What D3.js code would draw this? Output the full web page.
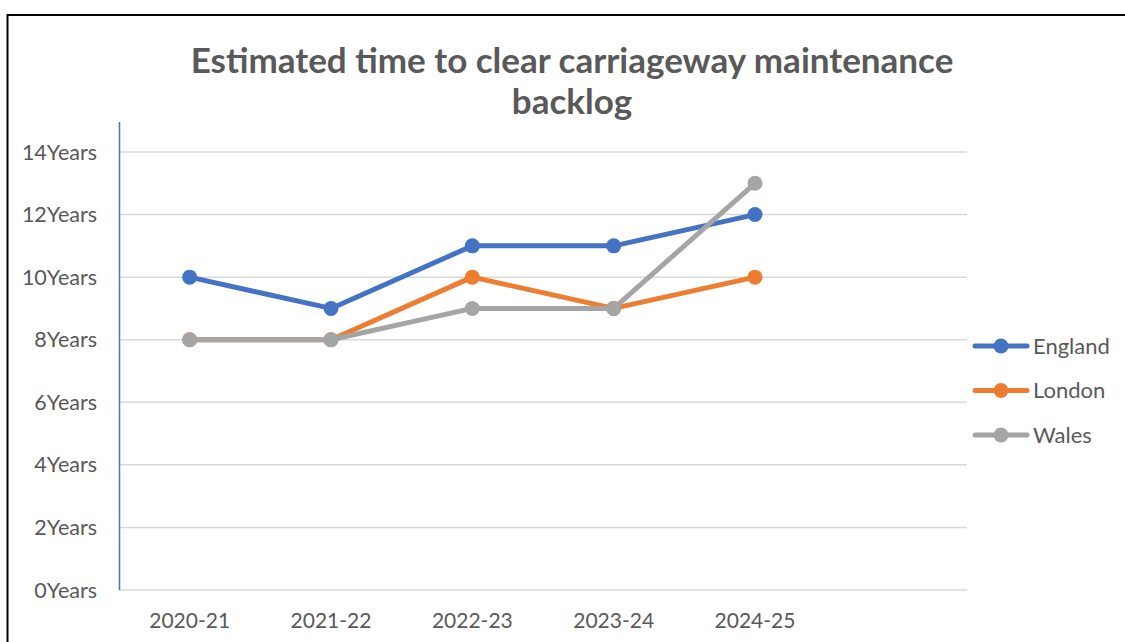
<!DOCTYPE html>
<html>
<head>
<meta charset="utf-8">
<script src="https://cdn.jsdelivr.net/npm/d3@7"></script>
<style>
  body { margin: 0; background: #fff; }
  text { font-family: Lato, "Open Sans", sans-serif; }
</style>
</head>
<body>
<svg id="chart" width="1125" height="642"></svg>
<script>
// data
var years = ["2020-21", "2021-22", "2022-23", "2023-24", "2024-25", ""];
var england = [10, 9, 11, 11, 12];
var london = [8, 8, 10, 9, 10];
var wales = [8, 8, 9, 9, 13];
var yTicks = [0, 2, 4, 6, 8, 10, 12, 14];

var series = [
  { name: "England", values: england, color: "#4472C4" },
  { name: "London", values: london, color: "#ED7D31" },
  { name: "Wales", values: wales, color: "#A5A5A5" }
];

var svg = d3.select("#chart");

// frame
svg.append("path")
  .attr("d", "M 7.5 642 L 7.5 15 L 1125 15")
  .attr("fill", "none")
  .attr("stroke", "black")
  .attr("stroke-width", 2);

// title
svg.append("text")
  .attr("x", 572)
  .attr("y", 73)
  .attr("text-anchor", "middle")
  .attr("fill", "#595959")
  .attr("font-weight", "bold")
  .style("font-size", "35px")
  .text("Estimated time to clear carriageway maintenance");

svg.append("text")
  .attr("x", 572)
  .attr("y", 114)
  .attr("text-anchor", "middle")
  .attr("fill", "#595959")
  .attr("font-weight", "bold")
  .style("font-size", "35px")
  .text("backlog");

var x = d3.scaleBand().domain(years).range([119, 967]);
var y = d3.scaleLinear().domain([0, 14]).range([590, 152]);

// gridlines
svg.append("g")
  .selectAll("line")
  .data(yTicks)
  .join("line")
  .attr("x1", 119)
  .attr("x2", 967)
  .attr("y1", function(d) { return y(d); })
  .attr("y2", function(d) { return y(d); })
  .attr("stroke", "#d9d9d9")
  .attr("stroke-width", 1.5);

// y axis line
svg.append("line")
  .attr("x1", 119.5)
  .attr("x2", 119.5)
  .attr("y1", 122)
  .attr("y2", 590)
  .attr("stroke", "#4472C4")
  .attr("stroke-width", 1.5);

// y labels
svg.append("g")
  .selectAll("text")
  .data(yTicks)
  .join("text")
  .attr("x", 97)
  .attr("y", function(d) { return y(d) + 7.5; })
  .attr("text-anchor", "end")
  .attr("fill", "#595959")
  .style("font-size", "21.5px")
  .text(function(d) { return d + "Years"; });

// x labels
svg.append("g")
  .selectAll("text")
  .data(years.slice(0, 5))
  .join("text")
  .attr("x", function(d) { return x(d) + x.bandwidth() / 2; })
  .attr("y", 628)
  .attr("text-anchor", "middle")
  .attr("fill", "#595959")
  .style("font-size", "21px")
  .text(function(d) { return d; });

var line = d3.line()
  .x(function(d, i) { return x(years[i]) + x.bandwidth() / 2; })
  .y(function(d) { return y(d); });

series.forEach(function(s) {
  var g = svg.append("g");
  g.append("path")
    .attr("d", line(s.values))
    .attr("fill", "none")
    .attr("stroke", s.color)
    .attr("stroke-width", 5)
    .attr("stroke-linejoin", "round")
    .attr("stroke-linecap", "round");
  g.selectAll("circle")
    .data(s.values)
    .join("circle")
    .attr("cx", function(d, i) { return x(years[i]) + x.bandwidth() / 2; })
    .attr("cy", function(d) { return y(d); })
    .attr("r", 7.5)
    .attr("fill", s.color);
});

// legend
var legend = svg.append("g")
  .selectAll("g")
  .data(series)
  .join("g")
  .attr("transform", function(d, i) { return "translate(0," + (346 + i * 44.5) + ")"; });

legend.append("line")
  .attr("x1", 975)
  .attr("x2", 1027)
  .attr("y1", 0)
  .attr("y2", 0)
  .attr("stroke", function(d) { return d.color; })
  .attr("stroke-width", 5)
  .attr("stroke-linecap", "round");

legend.append("circle")
  .attr("cx", 1001)
  .attr("cy", 0)
  .attr("r", 7.5)
  .attr("fill", function(d) { return d.color; });

legend.append("text")
  .attr("x", 1033)
  .attr("y", 7.5)
  .attr("fill", "#595959")
  .style("font-size", "22px")
  .text(function(d) { return d.name; });
</script>
</body>
</html>
